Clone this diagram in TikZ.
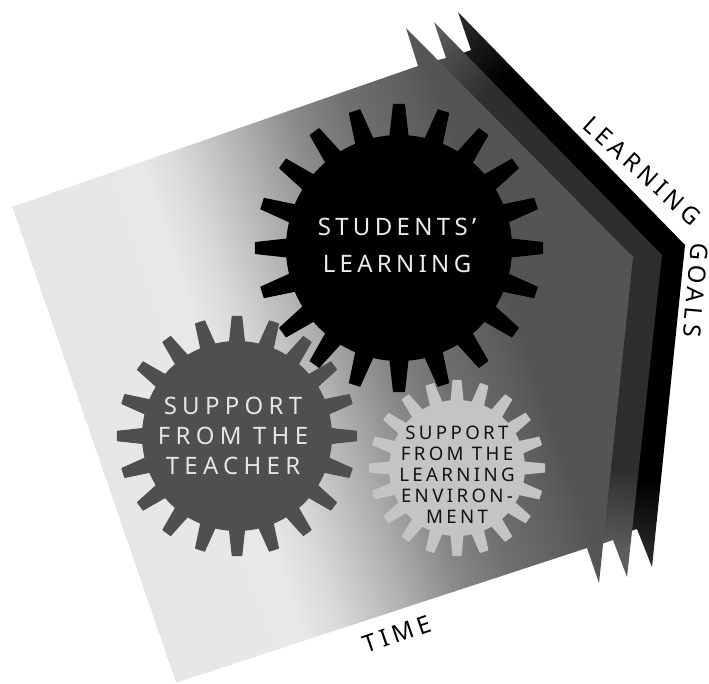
\documentclass[tikz,border=0pt]{standalone}
\usepackage{fontspec}
\newfontfamily\widefont[LetterSpace=18]{Noto Sans}
\newfontfamily\widerfont[LetterSpace=22]{Noto Sans}
\newfontfamily\smallwidefont[LetterSpace=18]{Noto Sans}
\definecolor{teachergray}{HTML}{4F4F4F}
\definecolor{envgray}{HTML}{C4C4C4}
\pgfdeclarehorizontalshading{frontgrad}{2000bp}{
  rgb(0bp)=(.90,.90,.90); rgb(135bp)=(.91,.91,.91); rgb(175bp)=(.85,.85,.85);
  rgb(245bp)=(.68,.68,.68); rgb(296bp)=(.54,.54,.54); rgb(350bp)=(.44,.44,.44);
  rgb(412bp)=(.37,.37,.37); rgb(440bp)=(.33,.33,.33); rgb(1400bp)=(.31,.31,.31)}
\pgfdeclareradialshading{midgrad}{\pgfpoint{0bp}{0bp}}{
  color(0bp)=(black!82); color(220bp)=(black!82); color(300bp)=(black!64); color(600bp)=(black!64)}
\pgfdeclareradialshading{backgrad}{\pgfpoint{0bp}{0bp}}{
  color(0bp)=(black); color(230bp)=(black); color(300bp)=(black!85); color(600bp)=(black!85)}
% centre x, centre y, body radius, tip radius, base width, tip width, colour
\newcommand{\gearwheel}[7]{%
  \begin{scope}[shift={(#1,#2)}]
    \fill[#7] (0,0) circle (#3);
    \foreach \ang in {0,18,...,342}
      \filldraw[#7,line width=0.8pt,line join=round,rotate=\ang]
        (#3-1,-#5/2) -- (#4-0.5,-#6/2) -- (#4-0.5,#6/2) -- (#3-1,#5/2) -- cycle;
  \end{scope}}
\tikzset{
  geartext/.style={align=center,inner sep=0pt,font=\widerfont\fontsize{18}{22.5}\selectfont},
  bigtext/.style={align=center,inner sep=0pt,font=\widefont\fontsize{18}{27.75}\selectfont},
  envtext/.style={align=center,inner sep=0pt,text=black!93,font=\smallwidefont\fontsize{14}{15.75}\selectfont},
  labeltext/.style={inner sep=0pt,text=black,font=\widefont\fontsize{18}{22}\selectfont}
}
\begin{document}
\begin{tikzpicture}[x=0.75pt,y=-0.75pt]
\useasboundingbox (0,0) rectangle (709,683);
\fill[white] (0,0) rectangle (709,683);
% back arrow
\begin{scope}
  \clip (458,12) -- (685,245) -- (652,567) -- (637,529) -- (615,536) -- (455,56) -- (471,50) -- cycle;
  \pgftransformshift{\pgfpointxy{660}{250}}
  \pgftransformscale{0.7472}
  \pgflowlevelsynccm
  \pgfuseshading{backgrad}
\end{scope}
% middle arrow
\begin{scope}
  \clip (434,22) -- (662,255) -- (627,577) -- (613,540) -- (590,548) -- (430,62) -- (446,58) -- cycle;
  \pgftransformshift{\pgfpointxy{640}{250}}
  \pgftransformscale{0.7472}
  \pgflowlevelsynccm
  \pgfuseshading{midgrad}
\end{scope}
% front arrow
\begin{scope}
  \clip (12,207) -- (418,66) -- (406,28) -- (633,257) -- (599,583) -- (587,548) -- (175,683) -- cycle;
  \pgftransformshift{\pgfpointxy{673.5}{-21.9}}
  \pgftransformrotate{19}
  \pgftransformscale{0.7472}
  \pgflowlevelsynccm
  \pgfuseshading{frontgrad}
\end{scope}
% gears
\gearwheel{237}{436}{95}{120}{15}{9.5}{teachergray}
\gearwheel{399}{248}{113}{144}{18}{11}{black}
\gearwheel{457}{468}{68}{88}{12}{8}{envgray}
% gear texts
\node[bigtext,text=black!8] (students) at (397,245) {STUDENTS’\\LEARNING};
\node[geartext,text=black!10] (teacher) at (233,436) {SUPPORT\\FROM THE\\TEACHER};
\node[envtext] (environment) at (457,475) {SUPPORT\\FROM THE\\LEARNING\\ENVIRON-\\MENT};
% axis labels
\node[labeltext,rotate=19] (time) at (397,634) {TIME};
\node[labeltext,rotate=-42] (learning) at (642,171) {LEARNING};
\node[labeltext,rotate=-95] (goals) at (696,290) {GOALS};
\end{tikzpicture}
\end{document}
